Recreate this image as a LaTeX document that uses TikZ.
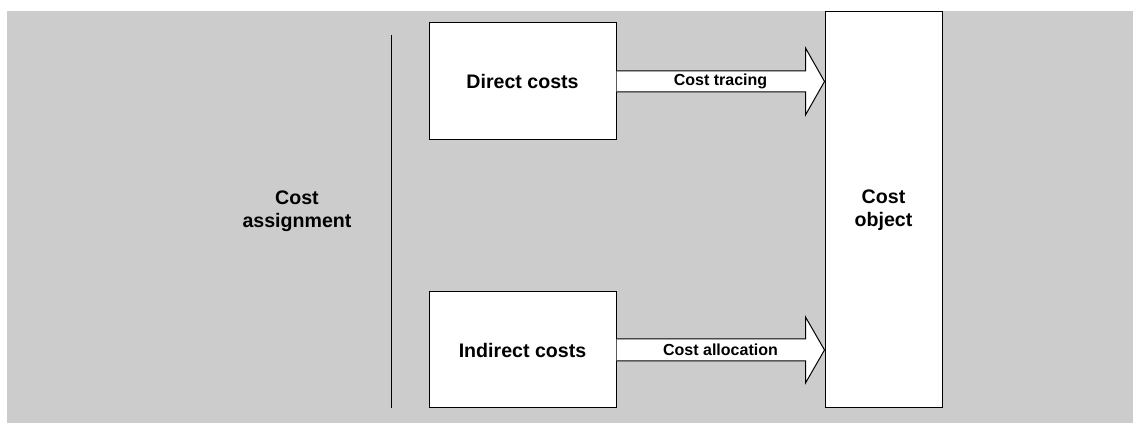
\documentclass[tikz,border=0pt]{standalone}
\usepackage{fontspec}
\setmainfont{Liberation Sans}
\usetikzlibrary{calc}
\definecolor{panelgray}{RGB}{204,204,204}
\begin{document}
\begin{tikzpicture}[x=0.75pt,y=-0.75pt,
  box/.style={draw=black,fill=white,line width=0.75pt,inner sep=0pt,align=center,
    font=\fontsize{14.7}{17.25}\selectfont\bfseries},
  fatarrow/.style={draw=black,fill=white,line width=0.75pt,line join=miter},
  arrowlabel/.style={font=\fontsize{12}{14}\selectfont\bfseries,inner sep=0pt},
  sidelabel/.style={font=\fontsize{14.7}{17.25}\selectfont\bfseries,align=center,inner sep=0pt}]
  \useasboundingbox (0,0) rectangle (1133,423);
  % panel
  \fill[panelgray] (7,11) rectangle (1133,423);

  % divider between the label and the cost boxes
  \coordinate (divtop) at (391,35);
  \coordinate (divbot) at (391,408);
  \draw[line width=0.75pt] (divtop) -- (divbot);

  \node[sidelabel] (assign) at (297,211) {Cost\\assignment};

  % cost boxes
  \node[box,minimum width=140.25pt,minimum height=87.75pt] (direct) at (522.5,81.5) {Direct costs};
  \node[box,minimum width=140.25pt,minimum height=87pt] (indirect) at (522.5,350) {Indirect costs};
  \node[box,minimum width=87.75pt,minimum height=297pt] (object) at (883.5,210) {Cost\\object};

  % block arrows into the cost object
  \draw[fatarrow] ($(direct.east)+(0,-10.5)$) -- ($(object.west |- direct.east)+(-19,-10.5)$)
    -- ++(0,-23) -- (object.west |- direct.east) -- ++(-19,33.5) -- ++(0,-23)
    -- ($(direct.east)+(0,10.5)$);
  \draw[fatarrow] ($(indirect.east)+(0,-11)$) -- ($(object.west |- indirect.east)+(-19,-11)$)
    -- ++(0,-22) -- (object.west |- indirect.east) -- ++(-19,33) -- ++(0,-22)
    -- ($(indirect.east)+(0,11)$);

  \node[arrowlabel] (tracing) at ($(direct.east)!0.5!(object.west |- direct.east)$) {Cost tracing};
  \node[arrowlabel] (allocation) at ($(indirect.east)!0.5!(object.west |- indirect.east)$) {Cost allocation};
\end{tikzpicture}
\end{document}
